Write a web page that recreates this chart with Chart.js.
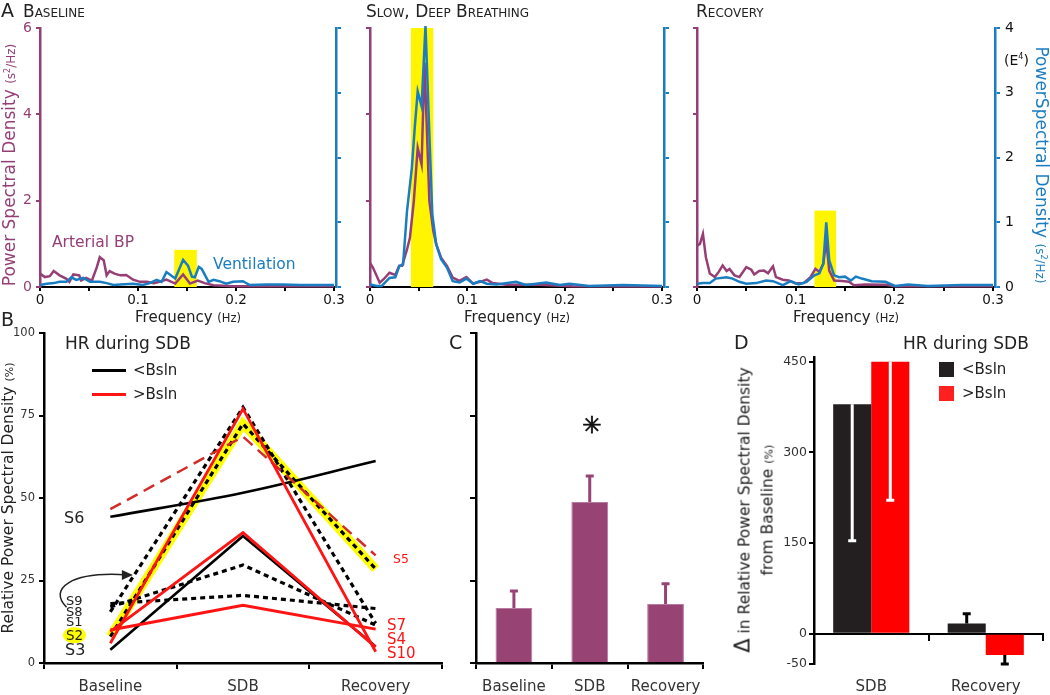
<!DOCTYPE html>
<html>
<head>
<meta charset="utf-8">
<script src="https://cdn.jsdelivr.net/npm/chart.js@4.4.1/dist/chart.umd.min.js"></script>
<style>
body { margin: 0; background: #fff; }
#fig { position: relative; width: 1050px; height: 695px; overflow: hidden; font-family: 'DejaVu Sans', Verdana, sans-serif; color: #222; }
#fig canvas { position: absolute; }
.t { position: absolute; white-space: nowrap; line-height: 1; }
.sc { font-variant: small-caps; }
</style>
</head>
<body>
<div id="fig">
  <canvas id="cA1" width="350" height="330" style="left:0;top:0"></canvas>
  <canvas id="cA2" width="340" height="330" style="left:340px;top:0"></canvas>
  <canvas id="cA3" width="370" height="330" style="left:680px;top:0"></canvas>
  <canvas id="cB" width="460" height="385" style="left:0;top:310px"></canvas>
  <canvas id="cC" width="250" height="385" style="left:460px;top:310px"></canvas>
  <canvas id="cD" width="370" height="385" style="left:680px;top:310px"></canvas>
</div>
<script>
// ---- A: power spectra (frequency in Hz, BP on left axis, ventilation on right axis in E4) ----
const baseBPf = [0,0.005,0.01,0.014,0.02,0.027,0.03,0.034,0.04,0.042,0.047,0.053,0.058,0.061,0.065,0.068,0.071,0.076,0.082,0.088,0.095,0.102,0.109,0.116,0.122,0.129,0.138,0.146,0.153,0.161,0.168,0.177,0.197,0.231,0.3];
const baseBP = [0.31,0.23,0.25,0.37,0.27,0.19,0.12,0.29,0.27,0.15,0.21,0.15,0.46,0.69,0.62,0.27,0.37,0.31,0.27,0.28,0.17,0.12,0.12,0.09,0.12,0.17,0.08,0.29,0.08,0.15,0.09,0.04,0.02,0.015,0.015];
const baseVenf = [0,0.007,0.014,0.02,0.027,0.032,0.037,0.044,0.051,0.061,0.068,0.075,0.082,0.095,0.105,0.112,0.119,0.124,0.129,0.138,0.146,0.151,0.155,0.158,0.162,0.165,0.172,0.177,0.183,0.19,0.197,0.207,0.214,0.231,0.248,0.265,0.282,0.3];
const baseVen = [0.03,0.05,0.06,0.08,0.08,0.15,0.11,0.14,0.08,0.08,0.06,0.03,0.04,0.05,0.03,0.06,0.11,0.08,0.23,0.13,0.42,0.33,0.16,0.15,0.31,0.28,0.08,0.11,0.09,0.05,0.08,0.09,0.03,0.04,0.04,0.03,0.03,0.03];

const sdbBPf = [0,0.003,0.01,0.014,0.02,0.026,0.03,0.033,0.038,0.041,0.045,0.049,0.053,0.056,0.061,0.065,0.068,0.073,0.079,0.085,0.092,0.099,0.106,0.113,0.12,0.126,0.14,0.174,0.208,0.3];
const sdbBP = [0.56,0.45,0.10,0.18,0.33,0.28,0.49,0.49,0.87,1.14,1.99,3.22,2.84,5.2,1.99,1.30,0.99,0.68,0.49,0.22,0.14,0.23,0.08,0.12,0.17,0.09,0.05,0.05,0.02,0.01];
const sdbVenf = [0,0.007,0.012,0.02,0.026,0.03,0.034,0.038,0.043,0.046,0.049,0.053,0.057,0.061,0.064,0.068,0.073,0.079,0.085,0.092,0.099,0.106,0.113,0.12,0.13,0.15,0.16,0.181,0.195,0.205,0.225,0.26,0.3];
const sdbVen = [0.04,0.015,0.015,0.14,0.15,0.32,0.35,1.17,1.84,2.47,3.02,2.79,4.03,2.35,1.12,0.66,0.43,0.30,0.09,0.07,0.13,0.05,0.09,0.05,0.04,0.08,0.03,0.07,0.03,0.05,0.015,0.03,0.015];

const recBPf = [0,0.003,0.006,0.009,0.013,0.018,0.022,0.026,0.03,0.033,0.038,0.043,0.05,0.055,0.058,0.063,0.068,0.072,0.077,0.08,0.087,0.093,0.1,0.108,0.115,0.12,0.124,0.128,0.131,0.134,0.139,0.147,0.154,0.159,0.171,0.191,0.201,0.3];
const recBP = [0.96,1.0,1.23,0.69,0.31,0.23,0.35,0.50,0.37,0.42,0.27,0.23,0.46,0.40,0.29,0.37,0.38,0.32,0.48,0.23,0.17,0.15,0.08,0.09,0.23,0.42,0.35,0.54,1.08,0.38,0.15,0.14,0.12,0.04,0.06,0.05,0.02,0.02];
const recVenf = [0,0.006,0.013,0.019,0.03,0.036,0.043,0.05,0.06,0.07,0.077,0.087,0.095,0.103,0.111,0.119,0.124,0.128,0.131,0.134,0.139,0.144,0.15,0.156,0.161,0.167,0.177,0.191,0.201,0.214,0.234,0.268,0.285,0.3];
const recVen = [0.05,0.06,0.06,0.13,0.15,0.13,0.08,0.05,0.06,0.10,0.09,0.03,0.09,0.04,0.08,0.18,0.21,0.36,1.0,0.41,0.18,0.15,0.16,0.10,0.16,0.13,0.09,0.08,0.015,0.04,0.015,0.03,0.03,0.03];

// highlighted breathing band per panel (Hz, top in left-axis units)
const bandFrom = [0.137, 0.042, 0.119];
const bandTo = [0.160, 0.065, 0.141];
const bandTop = [0.86, 6, 1.77];

// ---- B: individual subjects, relative PSD (%) ----
const stages = ['Baseline', 'SDB', 'Recovery'];
const s6 = [44.3, 51.6, 61.2];
const s5 = [46.6, 68.6, 32.6];
const s2 = [8, 72.5, 28.5];
const s1 = [15.5, 77.5, 12];
const s8 = [17, 29.7, 11.5];
const s9 = [18, 20.5, 16.5];
const s3 = [4, 38.5, 5];
const s7 = [10, 17.5, 10.3];
const s4 = [9.5, 39.5, 4.8];
const s10 = [6, 77, 3.4];

// ---- C: group mean and error ----
const cMean = [16.7, 48.8, 17.9];
const cErr = [21.8, 56.7, 24];

// ---- D: change from baseline (%) ----
const groups = ['SDB', 'Recovery'];
const dBelow = [380, 17];
const dBelowErr = [154, 33];
const dAbove = [450, -35];
const dAboveErr = [221, -50];
const dTicks = [-50, 0, 150, 300, 450];

const PURPLE = '#963f76';
const BLUE = '#1a7dc2';
const RED = '#ff1414';
const FONT = "'DejaVu Sans', Verdana, sans-serif";
Chart.defaults.font.family = FONT;
Chart.defaults.color = '#222';

const bandPlugin = {
    id: 'band',
    beforeDatasetsDraw(chart, args, o) {
        const { ctx, scales: { x, yL } } = chart;
        const l = x.getPixelForValue(o.from), r = x.getPixelForValue(o.to);
        const t = yL.getPixelForValue(o.top), b = yL.getPixelForValue(0);
        ctx.save();
        ctx.fillStyle = '#fff500';
        ctx.fillRect(l, t, r - l, b - t);
        ctx.restore();
    }
};

const errPlugin = {
    id: 'errBars',
    afterDatasetsDraw(chart, args, o) {
        const ctx = chart.ctx, y = chart.scales.y;
        o.sets.forEach((set, di) => {
            chart.getDatasetMeta(di).data.forEach((bar, i) => {
                const yEnd = y.getPixelForValue(set.ends[i]);
                ctx.save();
                ctx.strokeStyle = set.colors[i];
                ctx.lineWidth = 3;
                ctx.beginPath();
                ctx.moveTo(bar.x, bar.y);
                ctx.lineTo(bar.x, yEnd);
                ctx.moveTo(bar.x - 4, yEnd);
                ctx.lineTo(bar.x + 4, yEnd);
                ctx.stroke();
                ctx.restore();
            });
        });
    }
};

// curved arrow in panel B, given in data units (category index, %)
const arrowPlugin = {
    id: 'arrow',
    afterDatasetsDraw(chart, args, o) {
        const { ctx, scales: { x, y } } = chart;
        const p = o.pts.map(q => [x.getPixelForValue(q[0]), y.getPixelForValue(q[1])]);
        ctx.save();
        ctx.strokeStyle = '#222';
        ctx.fillStyle = '#222';
        ctx.lineWidth = 1.5;
        ctx.beginPath();
        ctx.moveTo(p[0][0], p[0][1]);
        ctx.bezierCurveTo(p[1][0], p[1][1], p[2][0], p[2][1], p[3][0] - 6, p[3][1]);
        ctx.stroke();
        ctx.beginPath();
        ctx.moveTo(p[3][0], p[3][1]);
        ctx.lineTo(p[3][0] - 11, p[3][1] - 5);
        ctx.lineTo(p[3][0] - 11, p[3][1] + 5);
        ctx.closePath();
        ctx.fill();
        ctx.restore();
    }
};

function fLabel(v) {
    const k = Math.round(v * 20);
    if (k % 2) return '';
    return k === 0 ? '0' : (k / 20).toFixed(1);
}

function spectrum(id, k, bpF, bpV, venF, venV, lw, rw, leftLabels, rightLabels) {
    new Chart(document.getElementById(id), {
        type: 'line',
        data: {
            datasets: [{
                label: 'Ventilation',
                data: venF.map((f, i) => ({ x: f, y: venV[i] })),
                yAxisID: 'yR',
                borderColor: BLUE,
                borderWidth: 2.5,
                pointRadius: 0,
                clip: false
            }, {
                label: 'Arterial BP',
                data: bpF.map((f, i) => ({ x: f, y: bpV[i] })),
                yAxisID: 'yL',
                borderColor: PURPLE,
                borderWidth: 2.5,
                pointRadius: 0,
                clip: false
            }]
        },
        options: {
            responsive: false,
            animation: false,
            layout: { padding: { top: 28 } },
            plugins: {
                legend: { display: false },
                tooltip: { enabled: false },
                band: { from: bandFrom[k], to: bandTo[k], top: bandTop[k] }
            },
            scales: {
                x: {
                    type: 'linear', min: 0, max: 0.302,
                    border: { color: '#000', width: 2 },
                    grid: { drawOnChartArea: false, color: '#000', lineWidth: 2, tickLength: 4 },
                    ticks: { stepSize: 0.05, includeBounds: false, autoSkip: false, maxRotation: 0, padding: 1, font: { size: 13.5 }, color: '#111', callback: fLabel },
                    afterFit: s => { s.height = 43; }
                },
                yL: {
                    position: 'left', min: 0, max: 6,
                    border: { color: PURPLE, width: 2.5 },
                    grid: { drawOnChartArea: false, color: PURPLE, lineWidth: 2, tickLength: 4 },
                    ticks: { stepSize: 2, display: leftLabels, color: PURPLE, font: { size: 14 }, padding: 4 },
                    afterFit: s => { s.width = lw; }
                },
                yR: {
                    position: 'right', min: 0, max: 4,
                    border: { color: BLUE, width: 2.5 },
                    grid: { drawOnChartArea: false, color: BLUE, lineWidth: 2, tickLength: 5 },
                    ticks: { stepSize: 1, display: rightLabels, color: '#111', font: { size: 14 }, padding: 5 },
                    afterFit: s => { s.width = rw; }
                }
            }
        },
        plugins: [bandPlugin]
    });
}

spectrum('cA1', 0, baseBPf, baseBP, baseVenf, baseVen, 40, 14, true, false);
spectrum('cA2', 1, sdbBPf, sdbBP, sdbVenf, sdbVen, 30, 16, false, false);
spectrum('cA3', 2, recBPf, recBP, recVenf, recVen, 17, 55, false, true);

// Panel B
function subj(data, color, width, dash, tension) {
    return { data, borderColor: color, borderWidth: width, borderDash: dash || [], pointRadius: 0, tension: tension || 0, borderCapStyle: 'butt' };
}
new Chart(document.getElementById('cB'), {
    type: 'line',
    data: {
        labels: stages,
        datasets: [
            subj(s10, RED, 2.8),
            subj(s4, RED, 2.8),
            subj(s7, RED, 2.8),
            subj(s5, '#d22b2b', 2.5, [12, 7]),
            subj(s3, '#000', 2.6),
            subj(s6, '#000', 2.6, null, 0.35),
            subj(s1, '#000', 3.2, [5, 4]),
            subj(s8, '#000', 3.2, [5, 4]),
            subj(s9, '#000', 3.2, [5, 4]),
            subj(s2, '#000', 3.2, [5, 4]),
            subj(s2, '#ffff00', 9)
        ]
    },
    options: {
        responsive: false,
        animation: false,
        layout: { padding: { top: 23, right: 18 } },
        plugins: {
            legend: { display: false },
            tooltip: { enabled: false },
            arrow: { pts: [[-0.33, 16.9], [-0.47, 22.5], [-0.3, 27.8], [0.17, 26.7]] }
        },
        scales: {
            x: {
                offset: true,
                border: { color: '#000', width: 2.5 },
                grid: { offset: true, drawOnChartArea: false, color: '#000', lineWidth: 2, tickLength: 6 },
                ticks: { font: { size: 15 }, color: '#333', padding: 9 },
                afterFit: s => { s.height = 32; }
            },
            y: {
                min: 0, max: 100,
                border: { color: '#000', width: 2.5 },
                grid: { drawOnChartArea: false, color: '#000', lineWidth: 2, tickLength: 5 },
                ticks: { stepSize: 25, font: { size: 11.5 }, color: '#333', padding: 4 },
                afterFit: s => { s.width = 44; }
            }
        }
    },
    plugins: [arrowPlugin]
});

// Panel C
new Chart(document.getElementById('cC'), {
    type: 'bar',
    data: {
        labels: stages,
        datasets: [{ data: cMean, backgroundColor: '#974475', borderColor: '#b77a9f', borderWidth: 1, categoryPercentage: 1, barPercentage: 0.485 }]
    },
    options: {
        responsive: false,
        animation: false,
        layout: { padding: { top: 23, right: 4 } },
        plugins: {
            legend: { display: false },
            tooltip: { enabled: false },
            errBars: { sets: [{ ends: cErr, colors: ['#974475', '#974475', '#974475'] }] }
        },
        scales: {
            x: {
                border: { color: '#000', width: 2.5 },
                grid: { offset: true, drawOnChartArea: false, color: '#000', lineWidth: 2, tickLength: 6 },
                ticks: { font: { size: 15 }, color: '#333', padding: 9 },
                afterFit: s => { s.height = 32; }
            },
            y: {
                min: 0, max: 100,
                border: { color: '#000', width: 2.5 },
                grid: { drawOnChartArea: false, color: '#000', lineWidth: 2, tickLength: 6 },
                ticks: { stepSize: 25, display: false },
                afterFit: s => { s.width = 16; }
            }
        }
    },
    plugins: [errPlugin]
});

// Panel D
new Chart(document.getElementById('cD'), {
    type: 'bar',
    data: {
        labels: groups,
        datasets: [
            { label: '<Bsln', data: dBelow, backgroundColor: '#231f20', categoryPercentage: 0.665, barPercentage: 1 },
            { label: '>Bsln', data: dAbove, backgroundColor: '#ff0000', categoryPercentage: 0.665, barPercentage: 1 }
        ]
    },
    options: {
        responsive: false,
        animation: false,
        layout: { padding: { top: 47, right: 7 } },
        plugins: {
            legend: { display: false },
            tooltip: { enabled: false },
            errBars: { sets: [{ ends: dBelowErr, colors: ['#fff', '#000'] }, { ends: dAboveErr, colors: ['#fff', '#000'] }] }
        },
        scales: {
            x: {
                position: { y: 0 },
                offset: true,
                border: { color: '#000', width: 2 },
                grid: { offset: true, drawOnChartArea: false, color: '#000', lineWidth: 2, tickLength: 6 },
                ticks: { display: false }
            },
            x2: {
                type: 'category', labels: groups, position: 'bottom', offset: true,
                border: { display: false },
                grid: { display: false },
                ticks: { font: { size: 15 }, color: '#333', padding: 6 },
                afterFit: s => { s.height = 31; }
            },
            y: {
                min: -50, max: 458,
                afterBuildTicks: s => { s.ticks = dTicks.map(v => ({ value: v })); },
                border: { color: '#000', width: 2.5 },
                grid: { drawOnChartArea: false, color: '#000', lineWidth: 2, tickLength: 5 },
                ticks: { font: { size: 12.5 }, color: '#333', padding: 2 },
                afterFit: s => { s.width = 134; }
            }
        }
    },
    plugins: [errPlugin]
});

// ---- text ----
const fig = document.getElementById('fig');
function txt(html, x, cy, size, color, cls) {
    const d = document.createElement('div');
    d.className = 't ' + (cls || '');
    d.innerHTML = html;
    d.style.left = x + 'px';
    d.style.top = cy + 'px';
    d.style.fontSize = size + 'px';
    d.style.color = color || '#222';
    d.style.transform = 'translateY(-50%)';
    fig.appendChild(d);
    return d;
}
function vtxt(html, cx, cy, size, color, deg, extra) {
    const d = document.createElement('div');
    d.className = 't';
    d.innerHTML = html;
    d.style.left = cx + 'px';
    d.style.top = cy + 'px';
    d.style.fontSize = size + 'px';
    d.style.color = color || '#222';
    d.style.textAlign = 'center';
    d.style.transform = 'translate(-50%,-50%) rotate(' + deg + 'deg)';
    if (extra) Object.assign(d.style, extra);
    fig.appendChild(d);
    return d;
}

txt('A', 1, 10, 19);
txt('Baseline', 23, 11, 17, '#222', 'sc');
txt('Slow, Deep Breathing', 366, 11, 17, '#222', 'sc');
txt('Recovery', 696, 11, 17, '#222', 'sc');

vtxt('Power Spectral Density <span style="font-size:12px">(s<sup style="font-size:8px">2</sup>/Hz)</span>', 9, 165, 17, PURPLE, -90);
vtxt('PowerSpectral Density <span style="font-size:12px">(s<sup style="font-size:8px">2</sup>/Hz)</span>', 1041, 165, 17, BLUE, 90);
txt('(E<sup style="font-size:8px">4</sup>)', 1004, 60, 14, '#111');
txt('Arterial BP', 52, 243, 15.5, PURPLE);
txt('Ventilation', 213, 265, 15.5, BLUE);

[188, 517, 846].forEach(cx => {
    vtxt('Frequency <span style="font-size:11.5px">(Hz)</span>', cx, 317, 15, '#222', 0);
});

txt('B', 1, 319, 19);
txt('C', 449, 342, 19);
txt('D', 734, 342, 19);

vtxt('Relative Power Spectral Density <span style="font-size:11px">(%)</span>', 9, 498, 15.5, '#222', -90);
txt('HR during SDB', 65, 343, 17);
[['#000', 370, '&lt;Bsln'], [RED, 394, '&gt;Bsln']].forEach(r => {
    const l = document.createElement('div');
    l.style.cssText = 'position:absolute;left:92px;width:34px;height:3px;background:' + r[0] + ';top:' + (r[1] - 1.5) + 'px';
    fig.appendChild(l);
    txt(r[2], 133, r[1], 15);
});
txt('S6', 64, 518, 16);
txt('S9', 66, 600, 13);
txt('S8', 66, 611, 13);
txt('S1', 66, 621, 13);
txt('<span style="background:#ffff00;border-radius:50%;padding:0 3px">S2</span>', 63, 636, 13.5);
txt('S3', 65, 650, 16);
txt('S5', 393, 559, 12.5, RED);
txt('S7', 387, 625, 15, RED);
txt('S4', 387, 639, 15, RED);
txt('S10', 387, 653, 15, RED);

vtxt('<span style="-webkit-text-stroke:0.8px #111">✳</span>', 592, 425, 23, '#111', 0);

vtxt('<span style="font-size:21px">Δ</span> in Relative Power Spectral Density<br>from Baseline <span style="font-size:11px">(%)</span>', 756, 510, 15.5, '#222', -90, { lineHeight: '23px' });
txt('HR during SDB', 903, 343, 17);
[['#231f20', 369, '&lt;Bsln'], ['#ff2020', 393, '&gt;Bsln']].forEach(r => {
    const sq = document.createElement('div');
    sq.style.cssText = 'position:absolute;left:939px;width:15px;height:15px;background:' + r[0] + ';top:' + (r[1] - 7.5) + 'px';
    fig.appendChild(sq);
    txt(r[2], 962, r[1], 15);
});
</script>
</body>
</html>
